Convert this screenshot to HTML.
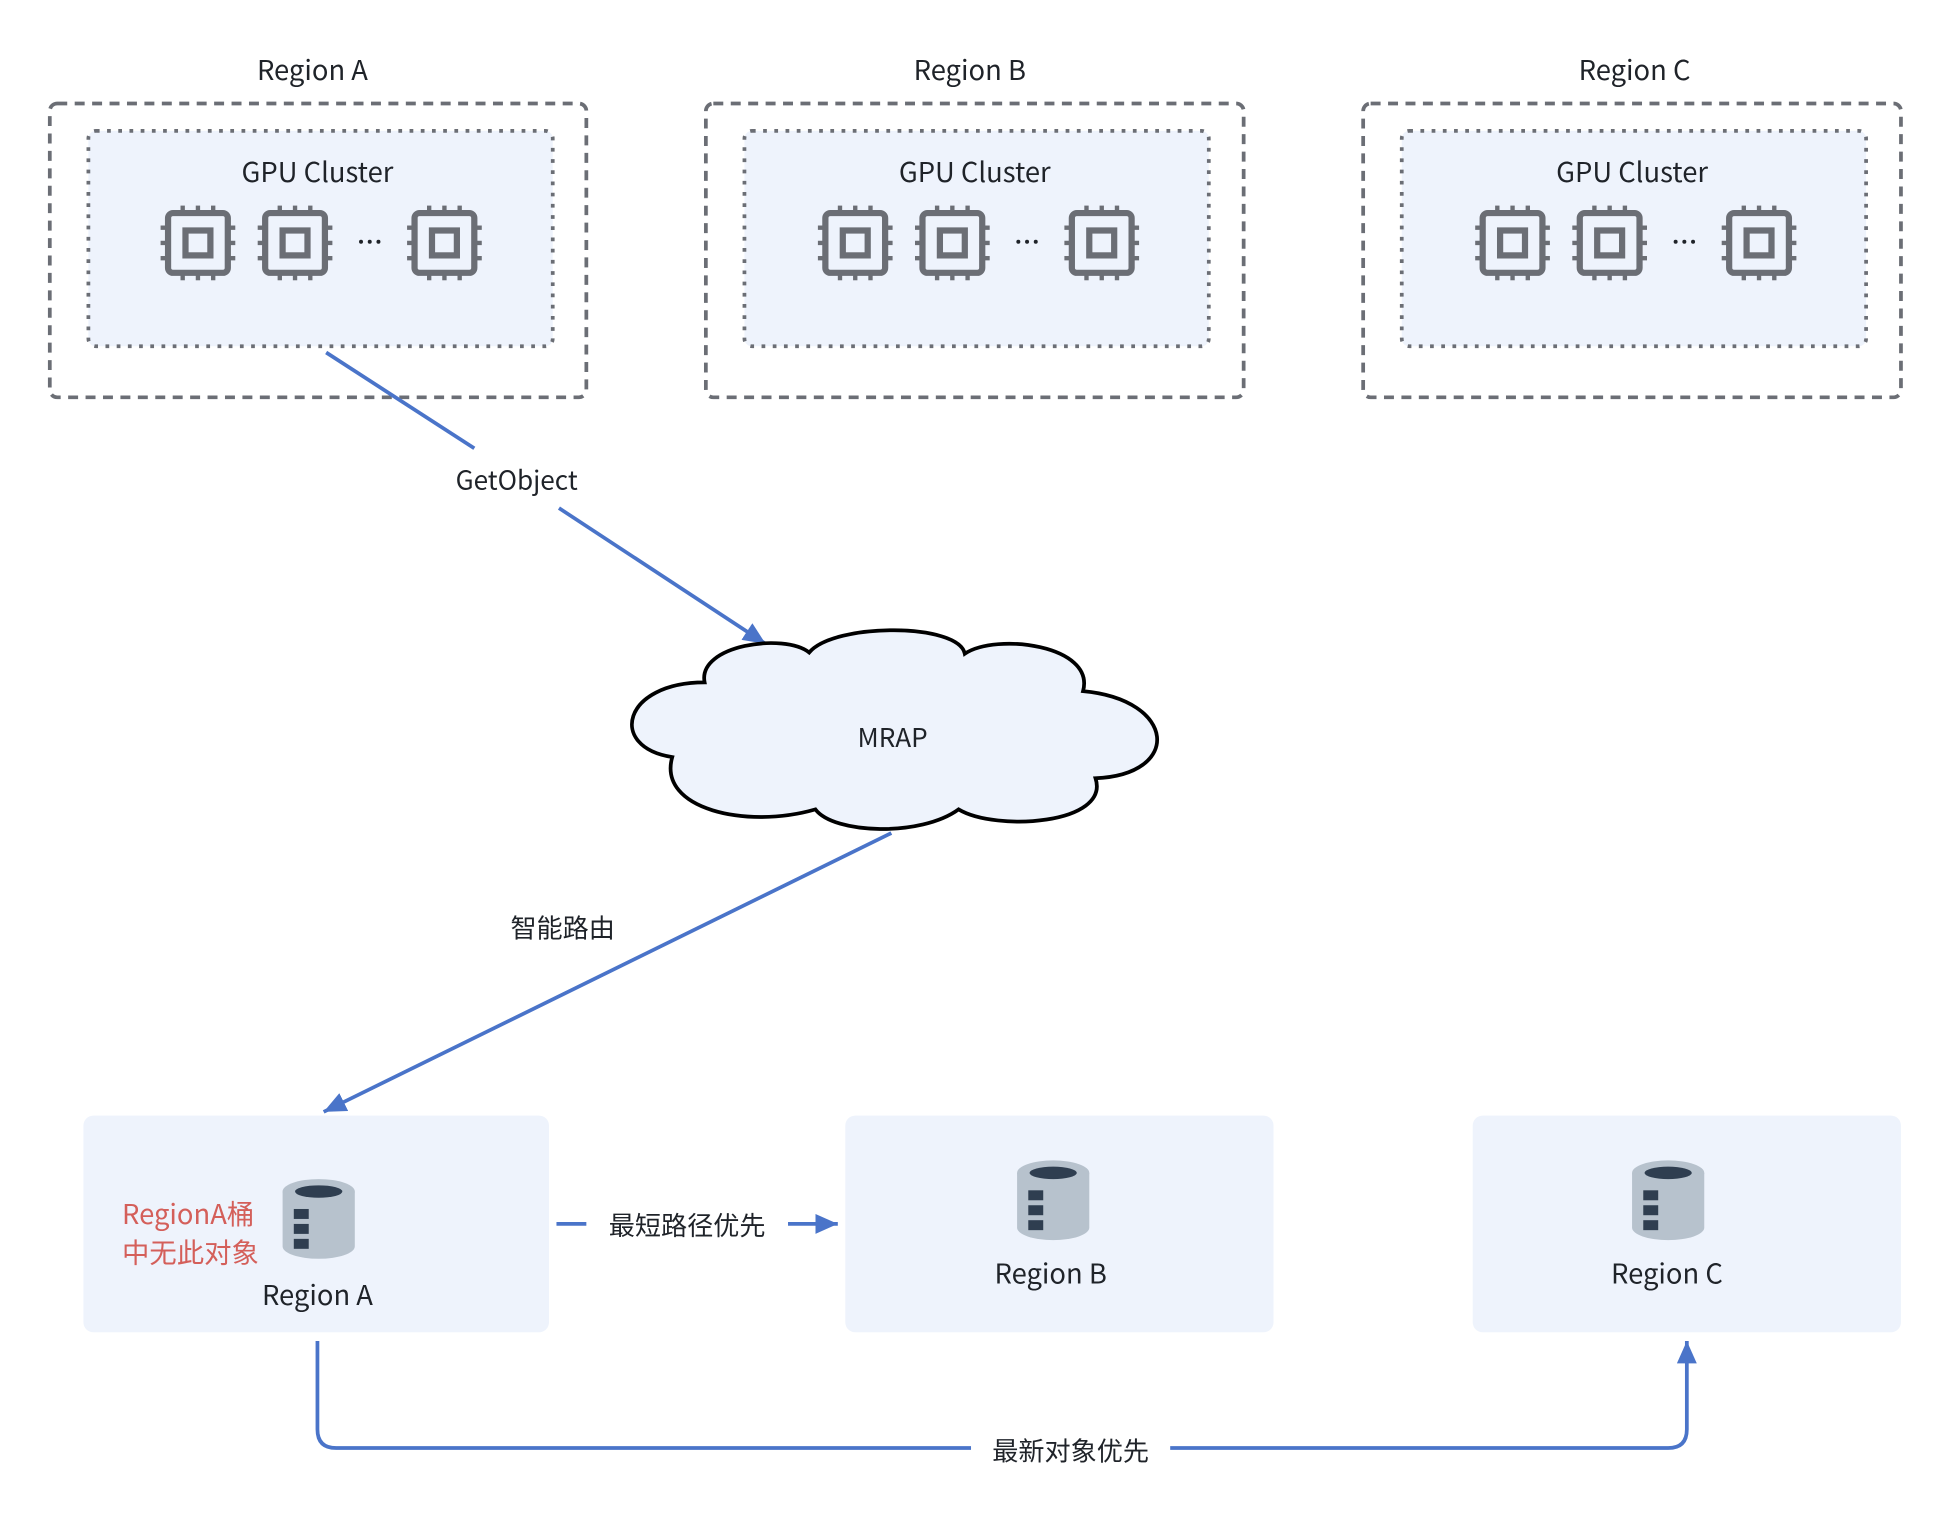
<!DOCTYPE html>
<html><head><meta charset="utf-8"><style>
html,body{margin:0;padding:0;background:#fff;}
svg{display:block;}
text{font-family:"Noto Sans CJK SC","Liberation Sans",sans-serif;fill:#1f2329;}
</style></head><body>
<svg width="1952" height="1526" viewBox="0 0 1568 1225.5" xmlns="http://www.w3.org/2000/svg">
<defs>
<marker id="ar" markerUnits="userSpaceOnUse" markerWidth="20" markerHeight="16" refX="18" refY="8" orient="auto">
<path d="M0,0 L18,8 L0,16 Z" fill="#4a74c9"/>
</marker>
<g id="chip">
<g fill="#6b6e75">
<rect x="-14" y="-30" width="3.5" height="8"/><rect x="-1.75" y="-30" width="3.5" height="8"/><rect x="10.5" y="-30" width="3.5" height="8"/>
<rect x="-14" y="22" width="3.5" height="8"/><rect x="-1.75" y="22" width="3.5" height="8"/><rect x="10.5" y="22" width="3.5" height="8"/>
<rect x="-30" y="-14" width="8" height="3.5"/><rect x="-30" y="-1.75" width="8" height="3.5"/><rect x="-30" y="10.5" width="8" height="3.5"/>
<rect x="22" y="-14" width="8" height="3.5"/><rect x="22" y="-1.75" width="8" height="3.5"/><rect x="22" y="10.5" width="8" height="3.5"/>
</g>
<rect x="-24" y="-24" width="48" height="48" rx="4" fill="none" stroke="#6b6e75" stroke-width="5"/>
<rect x="-10" y="-10" width="20" height="20" fill="none" stroke="#6b6e75" stroke-width="5"/>
</g>
<g id="bucket">
<path d="M-29,-22 V22 A29,10 0 0 0 29,22 V-22 Z" fill="#b7c2cd"/>
<ellipse cx="0" cy="-22" rx="29" ry="10" fill="#b7c2cd"/>
<ellipse cx="0" cy="-22" rx="19" ry="5" fill="#2f3e50"/>
<rect x="-20" y="-8" width="12" height="8" fill="#2f3e50"/>
<rect x="-20" y="4" width="12" height="8" fill="#2f3e50"/>
<rect x="-20" y="16" width="12" height="8" fill="#2f3e50"/>
</g>
<g id="cluster">
<text x="0" y="-37" font-size="22" text-anchor="middle">GPU Cluster</text>
<use href="#chip" x="-96" y="12"/>
<use href="#chip" x="-18" y="12"/>
<g fill="#1f2329"><circle cx="35" cy="11" r="1.6"/><circle cx="42" cy="11" r="1.6"/><circle cx="49" cy="11" r="1.6"/></g>
<use href="#chip" x="102" y="12"/>
</g>
</defs>

<g font-size="22">
<text x="251" y="64" text-anchor="middle">Region A</text>
<text x="779" y="64" text-anchor="middle">Region B</text>
<text x="1313" y="64" text-anchor="middle">Region C</text>
</g>
<g fill="none" stroke="#6b6e75" stroke-width="3" stroke-dasharray="8,6">
<rect x="40" y="83" width="431" height="236" rx="6"/>
<rect x="567" y="83" width="432" height="236" rx="6"/>
<rect x="1095" y="83" width="432" height="236" rx="6"/>
</g>
<g fill="#eef3fc" stroke="#6b6e75" stroke-width="3" stroke-dasharray="3,6">
<rect x="71" y="105" width="373" height="173" rx="6"/>
<rect x="598" y="105" width="373" height="173" rx="6"/>
<rect x="1126" y="105" width="373" height="173" rx="6"/>
</g>
<use href="#cluster" x="255" y="183"/>
<use href="#cluster" x="783" y="183"/>
<use href="#cluster" x="1311" y="183"/>

<g stroke="#4a74c9" stroke-width="3" fill="none">
<line x1="262" y1="283" x2="381" y2="360"/>
<line x1="449" y1="408" x2="615" y2="517" marker-end="url(#ar)"/>
<line x1="716" y1="669" x2="260" y2="893" marker-end="url(#ar)"/>
<line x1="447" y1="983" x2="471" y2="983"/>
<line x1="633" y1="983" x2="673" y2="983" marker-end="url(#ar)"/>
<path d="M255 1077 V1148 Q255 1163 270 1163 H780"/>
<path d="M940 1163 H1340 Q1355 1163 1355 1148 V1077" marker-end="url(#ar)"/>
</g>
<text x="415" y="393" font-size="21" text-anchor="middle">GetObject</text>

<path d="M566 548 C560 518,630 508,650 524 C670 500,770 500,775 525 C800 508,880 518,870 555 C945 562,950 622,880 625 C892 662,800 668,770 650 C740 672,670 670,655 650 C600 666,528 650,540 608 C488 600,500 548,566 548 Z" fill="#eef3fc" stroke="#000" stroke-width="3"/>
<text x="717" y="600" font-size="21" text-anchor="middle">MRAP</text>

<text x="452" y="753" font-size="21" text-anchor="middle">智能路由</text>

<g fill="#eef3fc">
<rect x="67" y="896" width="374" height="174" rx="8"/>
<rect x="679" y="896" width="344" height="174" rx="8"/>
<rect x="1183" y="896" width="344" height="174" rx="8"/>
</g>
<use href="#bucket" x="256" y="979"/>
<use href="#bucket" x="846" y="964"/>
<use href="#bucket" x="1340" y="964"/>
<g font-size="22" text-anchor="middle">
<text x="255" y="1048">Region A</text>
<text x="844" y="1031">Region B</text>
<text x="1339" y="1031">Region C</text>
</g>
<text x="98" y="983" font-size="22" style="fill:#d45f5a">RegionA桶</text>
<text x="98" y="1014" font-size="22" style="fill:#d45f5a">中无此对象</text>
<text x="552" y="992" font-size="21" text-anchor="middle">最短路径优先</text>
<text x="860" y="1173" font-size="21" text-anchor="middle">最新对象优先</text>
</svg>
</body></html>
